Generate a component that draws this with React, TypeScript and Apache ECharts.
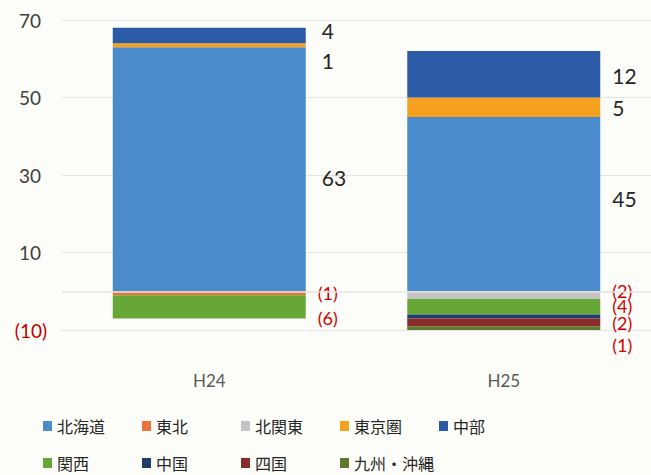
import React, { useEffect, useRef } from "react";
import * as echarts from "echarts";

const categories = ["H24", "H25"];
const regions = ["北海道", "東北", "北関東", "東京圏", "中部", "関西", "中国", "四国", "九州・沖縄"];
const hokkaido = [63, 45];
const tohoku = [-1, null];
const kitaKanto = [null, -2];
const tokyo = [1, 5];
const chubu = [4, 12];
const kansai = [-6, -4];
const chugoku = [null, -1];
const shikoku = [null, -2];
const kyushu = [null, -1];
const seriesValues = [hokkaido, tohoku, kitaKanto, tokyo, chubu, kansai, chugoku, shikoku, kyushu];
const colors = ["#4a8bcb", "#e8743b", "#c4c4c4", "#f5a01e", "#2b5ba6", "#67a737", "#1e3f6b", "#8a2b2b", "#5f7a30"];
const yTicks = { min: -10, max: 70, interval: 20 };

// label nudges (style only), per series per category
const labelOffsets: Record<string, [number, number][]> = {
  北海道: [[4, 8], [0, -6]],
  東北: [[0, 0], [0, 0]],
  北関東: [[0, 0], [0, -4]],
  東京圏: [[4, 15], [0, 0]],
  中部: [[4, -5], [0, 1]],
  関西: [[0, 11], [0, -1]],
  中国: [[0, 0], [0, 0]],
  四国: [[0, 0], [0, 1]],
  "九州・沖縄": [[0, 0], [0, 17]],
};
const hiddenLabels: Record<string, boolean[]> = { 中国: [true, true] };

const numFont = 'Lato, "Noto Sans CJK JP", sans-serif';
const cjkFont = '"Noto Sans CJK JP", sans-serif';

export default function App() {
  const ref = useRef<HTMLDivElement>(null);
  useEffect(() => {
    if (!ref.current) return;
    const chart = echarts.init(ref.current, undefined, { renderer: "svg" });
    const series: any[] = regions.map((name, si) => ({
      name,
      type: "bar",
      stack: "total",
      barWidth: 193,
      itemStyle: { color: colors[si] },
      label: {
        show: true,
        position: "right",
        distance: 12,
        fontFamily: numFont,
        fontSize: 21,
        formatter: (p: any) => (p.value < 0 ? `(${-p.value})` : `${p.value}`),
      },
      data: seriesValues[si].map((v, ci) => {
        if (v === null) return null;
        const off = labelOffsets[name] ? labelOffsets[name][ci] : [0, 0];
        const hidden = hiddenLabels[name] ? hiddenLabels[name][ci] : false;
        return {
          value: v,
          label: {
            show: !hidden,
            offset: off,
            color: v < 0 ? "#d00000" : "#262626",
            fontSize: v < 0 ? 18 : 21,
            lineHeight: v < 0 ? 14 : 24,
          },
        };
      }),
      ...(si === 0
        ? {
            markLine: {
              silent: true,
              symbol: "none",
              label: { show: false },
              lineStyle: { color: "#e4e4e4", type: "solid", width: 1.5 },
              data: [{ yAxis: 0 }],
            },
          }
        : {}),
    }));

    const legends = regions.map((name, i) => ({
      left: 38 + (i % 5) * 99,
      top: i < 5 ? 413 : 450,
      icon: "rect",
      itemWidth: 9,
      itemHeight: 10,
      itemGap: 5,
      selectedMode: false,
      data: [name],
      textStyle: { fontFamily: cjkFont, fontSize: 16, color: "#262626" },
    }));

    chart.setOption({
      animation: false,
      backgroundColor: "#fdfdf9",
      grid: { left: 62, right: -6, top: 20, bottom: 145 },
      legend: legends,
      xAxis: {
        type: "category",
        data: categories,
        axisLine: { onZero: false, lineStyle: { color: "#e4e4e4" } },
        axisTick: { show: false },
        axisLabel: { margin: 42, fontFamily: numFont, fontSize: 17, color: "#595959" },
      },
      yAxis: {
        type: "value",
        min: yTicks.min,
        max: yTicks.max,
        interval: yTicks.interval,
        splitLine: { lineStyle: { color: "#e4e4e4" } },
        axisLine: { show: false },
        axisTick: { show: false },
        axisLabel: {
          margin: 15,
          formatter: (v: number) => (v < 0 ? `{neg|(${-v})}` : `{pos|${v}}`),
          rich: {
            pos: { color: "#404040", fontSize: 19, fontFamily: numFont, padding: [0, 6, 0, 0] },
            neg: { color: "#c00000", fontSize: 19, fontFamily: numFont },
          },
        },
      },
      series,
    });
    return () => chart.dispose();
  }, []);
  return <div ref={ref} style={{ position: "fixed", left: 0, top: 0, width: 651, height: 475 }} />;
}
